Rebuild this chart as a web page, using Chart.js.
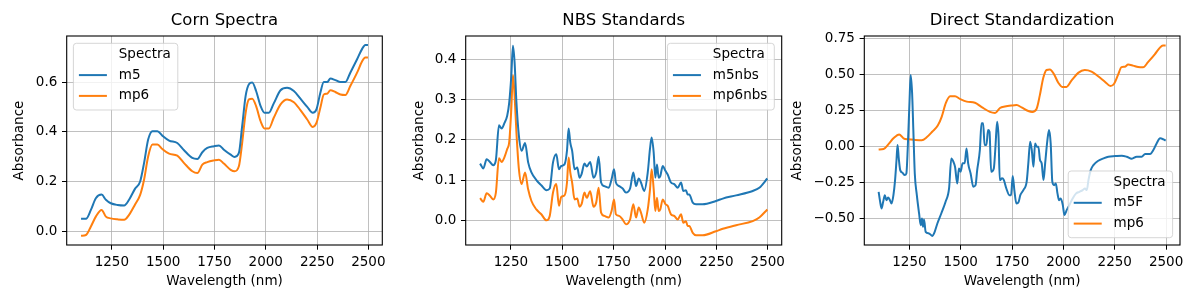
<!DOCTYPE html>
<html>
<head>
<meta charset="utf-8">
<script src="https://cdn.jsdelivr.net/npm/chart.js@4.4.1/dist/chart.umd.min.js"></script>
<style>
  html, body { margin: 0; padding: 0; background: #fff; }
  body { width: 1200px; height: 304px; position: relative; overflow: hidden; }
  canvas { position: absolute; top: 0; }
</style>
</head>
<body>
<canvas id="corn" width="400" height="304" style="left:0px"></canvas>
<canvas id="nbs" width="400" height="304" style="left:400px"></canvas>
<canvas id="ds" width="420" height="304" style="left:780px"></canvas>
<script>
// Corn spectra (m5 / mp6 instruments)
const cornWavelength = [1100, 1124, 1148, 1172, 1200, 1221, 1245, 1278, 1310, 1334, 1362, 1388, 1407, 1427, 1448, 1472, 1496, 1529, 1569, 1602, 1642, 1667, 1691, 1715, 1748, 1772, 1796, 1829, 1848, 1869, 1885, 1902, 1918, 1934, 1953, 1975, 1994, 2015, 2039, 2072, 2104, 2137, 2169, 2202, 2229, 2247, 2266, 2283, 2299, 2315, 2339, 2364, 2388, 2412, 2445, 2469, 2485, 2498];
const cornM5 = [0.049, 0.049, 0.085, 0.132, 0.147, 0.126, 0.112, 0.105, 0.103, 0.126, 0.169, 0.200, 0.274, 0.369, 0.403, 0.403, 0.385, 0.365, 0.355, 0.326, 0.295, 0.291, 0.318, 0.335, 0.342, 0.345, 0.328, 0.308, 0.299, 0.315, 0.423, 0.545, 0.592, 0.599, 0.565, 0.504, 0.477, 0.477, 0.515, 0.568, 0.578, 0.565, 0.534, 0.501, 0.477, 0.491, 0.558, 0.601, 0.601, 0.615, 0.609, 0.601, 0.601, 0.639, 0.693, 0.734, 0.751, 0.751];
const cornMp6 = [-0.019, -0.016, 0.018, 0.058, 0.085, 0.058, 0.051, 0.047, 0.045, 0.065, 0.105, 0.146, 0.207, 0.301, 0.349, 0.349, 0.331, 0.312, 0.304, 0.274, 0.241, 0.234, 0.268, 0.278, 0.285, 0.288, 0.272, 0.247, 0.241, 0.261, 0.355, 0.477, 0.531, 0.534, 0.504, 0.443, 0.414, 0.414, 0.457, 0.511, 0.531, 0.520, 0.488, 0.450, 0.420, 0.436, 0.497, 0.551, 0.554, 0.568, 0.561, 0.551, 0.549, 0.585, 0.639, 0.684, 0.700, 0.700];

// NBS standards
const nbsWavelength = [1100, 1116, 1132, 1148, 1164, 1177, 1192, 1205, 1218, 1232, 1242, 1252, 1260, 1268, 1277, 1289, 1302, 1319, 1334, 1350, 1374, 1398, 1423, 1439, 1455, 1471, 1484, 1495, 1511, 1523, 1531, 1539, 1548, 1560, 1573, 1584, 1594, 1608, 1619, 1636, 1652, 1665, 1677, 1689, 1705, 1726, 1740, 1752, 1761, 1777, 1794,
  1810, 1830, 1846, 1859, 1872, 1883, 1899, 1916, 1927, 1935, 1945, 1953, 1961, 1969, 1977, 1989, 2002, 2013, 2029, 2045, 2062, 2078, 2089, 2102, 2110, 2118, 2135, 2151, 2183, 2248, 2281, 2346, 2427, 2459, 2498];
const nbsM5 = [0.141, 0.129, 0.152, 0.145, 0.137, 0.150, 0.236, 0.228, 0.241, 0.260, 0.293, 0.359, 0.434, 0.393, 0.293, 0.210, 0.173, 0.192, 0.144, 0.119, 0.100, 0.087, 0.075, 0.079, 0.144, 0.164, 0.127, 0.135, 0.139, 0.173, 0.228, 0.193, 0.173, 0.127, 0.131, 0.106, 0.115, 0.141, 0.134, 0.145, 0.106, 0.119, 0.158, 0.094, 0.085, 0.081, 0.102, 0.127, 0.094, 0.085, 0.079,
  0.069, 0.079, 0.119, 0.085, 0.104, 0.094, 0.073, 0.119, 0.178, 0.206, 0.168, 0.106, 0.139, 0.106, 0.110, 0.135, 0.123, 0.114, 0.094, 0.090, 0.081, 0.094, 0.073, 0.075, 0.064, 0.064, 0.044, 0.040, 0.040, 0.048, 0.054, 0.062, 0.073, 0.081, 0.104];
const nbsMp6 = [0.055, 0.046, 0.067, 0.061, 0.052, 0.069, 0.154, 0.145, 0.156, 0.177, 0.195, 0.276, 0.361, 0.310, 0.218, 0.127, 0.090, 0.119, 0.077, 0.048, 0.027, 0.015, 0.000, 0.011, 0.069, 0.090, 0.036, 0.058, 0.062, 0.094, 0.156, 0.119, 0.094, 0.052, 0.054, 0.034, 0.040, 0.069, 0.056, 0.072, 0.034, 0.044, 0.081, 0.019, 0.011, 0.007, 0.023, 0.052, 0.015, 0.011, 0.002,
  -0.010, 0.002, 0.040, 0.007, 0.032, 0.019, -0.006, 0.027, 0.077, 0.127, 0.077, 0.023, 0.056, 0.023, 0.027, 0.052, 0.040, 0.036, 0.015, 0.011, 0.002, 0.015, -0.006, -0.002, -0.014, -0.014, -0.031, -0.037, -0.037, -0.027, -0.021, -0.012, -0.002, 0.007, 0.027];

// Direct standardization: transferred m5 spectrum (m5F)
const dsWavelength = [1100, 1106, 1114, 1122, 1130, 1138, 1146, 1155, 1163, 1172, 1180, 1187, 1192, 1198, 1205, 1216, 1227, 1235, 1242, 1250, 1256, 1263, 1269, 1276, 1286, 1297, 1305, 1311, 1316, 1321, 1329, 1345, 1362, 1370, 1386, 1405, 1426, 1443, 1454, 1464, 1472, 1483, 1491, 1499, 1509, 1519, 1528, 1536, 1548, 1561, 1572, 1580, 1593, 1601, 1609, 1616, 1625, 1633, 1640, 1648, 1661, 1669, 1677, 1684, 1690, 1701, 1710, 1722, 1737, 1745, 1753, 1761, 1771, 1782, 1790,
  1805, 1821, 1829, 1838, 1846, 1854, 1862, 1870, 1878, 1886, 1894, 1903, 1911, 1922, 1930, 1938, 1946, 1955, 1963, 1971, 1979, 1987, 1997, 2005, 2016, 2029, 2045, 2062, 2078, 2094, 2105, 2114, 2122, 2133, 2146, 2170, 2195, 2219, 2252, 2284, 2308, 2333, 2357, 2381, 2398, 2422, 2438, 2454, 2471, 2487, 2498];
const dsM5F = [-0.312, -0.370, -0.427, -0.381, -0.335, -0.370, -0.351, -0.370, -0.393, -0.335, -0.231, -0.092, 0.012, -0.081, -0.162, -0.180, -0.196, -0.185, 0.000, 0.300, 0.497, 0.370, 0.115, -0.185, -0.335, -0.462, -0.543, -0.497, -0.554, -0.503, -0.589, -0.600, -0.617, -0.600, -0.531, -0.462, -0.381, -0.289, -0.081, -0.104, -0.139, -0.254, -0.150, -0.173, -0.115, -0.115, -0.012, -0.115, -0.185, -0.277, -0.266, -0.162, -0.023, 0.162, 0.162, 0.012, 0.012, 0.115, 0.104, -0.173, -0.150, 0.000, 0.173, 0.069, -0.231, -0.219, -0.231, -0.289, -0.335, -0.335, -0.203, -0.300, -0.393, -0.381, -0.335,
  -0.300, -0.242, -0.115, 0.035, -0.023, -0.139, 0.023, 0.000, 0.000, -0.092, -0.115, -0.231, -0.115, 0.046, 0.115, 0.023, -0.242, -0.266, -0.254, -0.323, -0.370, -0.358, -0.404, -0.473, -0.439, -0.404, -0.358, -0.323, -0.312, -0.300, -0.289, -0.300, -0.231, -0.162, -0.127, -0.097, -0.081, -0.069, -0.065, -0.062, -0.069, -0.083, -0.069, -0.069, -0.051, -0.051, -0.023, 0.023, 0.058, 0.051, 0.042];

const xTicks = [1250, 1500, 1750, 2000, 2250, 2500];
const cornYTicks = [0.0, 0.2, 0.4, 0.6];
const nbsYTicks = [0.0, 0.1, 0.2, 0.3, 0.4];
const dsYTicks = [-0.50, -0.25, 0.00, 0.25, 0.50, 0.75];

const COLORS = ['#1f77b4', '#ff7f0e'];
const FONT = "'DejaVu Sans', sans-serif";
const FS = 13.5;

Chart.defaults.font.family = FONT;
Chart.defaults.color = '#000';

function fmt(v, digits) {
    const s = Math.abs(v).toFixed(digits);
    return (v < -1e-9 ? '\u2212' : '') + s;
}

// matplotlib style frame + legend drawn on top of the lines
const mplFrame = {
    id: 'mplFrame',
    afterDatasetsDraw(chart, args, opts) {
        const ctx = chart.ctx;
        const a = chart.chartArea;
        ctx.save();
        ctx.strokeStyle = '#000';
        ctx.lineWidth = 1.1;
        ctx.strokeRect(a.left, a.top, a.right - a.left, a.bottom - a.top);

        ctx.font = FS + 'px ' + FONT;
        const entries = [{label: 'Spectra', color: null}].concat(
            chart.data.datasets.map(d => ({label: d.label, color: d.borderColor})));
        const textW = Math.max(...entries.map(e => ctx.measureText(e.label).width));
        const w = 45.4 + textW + 7;
        const h = 66.7;
        let left, top;
        if (opts.position === 'upper left') {
            left = a.left + 6.7; top = a.top + 7.3;
        } else if (opts.position === 'upper right') {
            left = a.right - 7.4 - w; top = a.top + 7.3;
        } else {
            left = a.right - 7.4 - w; top = a.bottom - 7.3 - h;
        }
        const r = 3;
        ctx.beginPath();
        ctx.moveTo(left + r, top);
        ctx.lineTo(left + w - r, top);
        ctx.arcTo(left + w, top, left + w, top + r, r);
        ctx.lineTo(left + w, top + h - r);
        ctx.arcTo(left + w, top + h, left + w - r, top + h, r);
        ctx.lineTo(left + r, top + h);
        ctx.arcTo(left, top + h, left, top + h - r, r);
        ctx.lineTo(left, top + r);
        ctx.arcTo(left, top, left + r, top, r);
        ctx.closePath();
        ctx.fillStyle = 'rgba(255,255,255,0.8)';
        ctx.fill();
        ctx.strokeStyle = 'rgba(204,204,204,0.8)';
        ctx.lineWidth = 1;
        ctx.stroke();

        ctx.textBaseline = 'middle';
        ctx.textAlign = 'left';
        entries.forEach((e, i) => {
            const cy = top + 11 + i * 20.8;
            if (e.color) {
                ctx.strokeStyle = e.color;
                ctx.lineWidth = 2;
                ctx.beginPath();
                ctx.moveTo(left + 5.5, cy);
                ctx.lineTo(left + 33.5, cy);
                ctx.stroke();
            }
            ctx.fillStyle = '#000';
            ctx.fillText(e.label, left + 45.4, cy);
        });
        ctx.restore();
    }
};

function makeChart(canvasId, cfg) {
    const datasets = cfg.series.map((s, i) => ({
        label: s.label,
        data: s.x.map((x, j) => ({x: x, y: s.y[j]})),
        borderColor: COLORS[i],
        backgroundColor: COLORS[i],
        borderWidth: 2,
        pointRadius: 0,
        cubicInterpolationMode: 'monotone',
        fill: false
    }));
    const grid = {color: '#b0b0b0', lineWidth: 0.8, tickColor: '#000', tickLength: 4.7, tickWidth: 1};
    return new Chart(document.getElementById(canvasId), {
        type: 'line',
        data: {datasets: datasets},
        options: {
            responsive: false,
            animation: false,
            events: [],
            layout: {padding: {top: 0, right: cfg.padRight, bottom: 0, left: 0}},
            plugins: {
                legend: {display: false},
                tooltip: {enabled: false},
                title: {
                    display: true,
                    text: cfg.title,
                    fullSize: false,
                    color: '#000',
                    font: {size: 16.5, weight: 'normal', lineHeight: 1.2},
                    padding: {top: 11, bottom: 5.2}
                },
                mplFrame: {position: cfg.legend}
            },
            scales: {
                x: {
                    type: 'linear',
                    min: 1030.1,
                    max: 2567.9,
                    afterBuildTicks: s => { s.ticks = xTicks.map(v => ({value: v})); },
                    afterFit: s => { s.height = 59; },
                    grid: grid,
                    border: {display: false},
                    ticks: {autoSkip: false, maxRotation: 0, padding: 4.7, font: {size: FS}, callback: v => String(v)},
                    title: {display: true, text: 'Wavelength (nm)', font: {size: FS}, padding: {top: 0, bottom: 14.7}}
                },
                y: {
                    type: 'linear',
                    min: cfg.yMin,
                    max: cfg.yMax,
                    afterBuildTicks: s => { s.ticks = cfg.yTicks.map(v => ({value: v})); },
                    afterFit: s => { s.width = cfg.yWidth; },
                    grid: grid,
                    border: {display: false},
                    ticks: {autoSkip: false, padding: 4.7, font: {size: FS}, callback: v => fmt(v, cfg.digits)},
                    title: {display: true, text: 'Absorbance', font: {size: FS}, padding: {top: cfg.yTitlePad, bottom: 0}}
                }
            }
        },
        plugins: [mplFrame]
    });
}

makeChart('corn', {
    title: 'Corn Spectra',
    series: [
        {label: 'm5', x: cornWavelength, y: cornM5},
        {label: 'mp6', x: cornWavelength, y: cornMp6}
    ],
    yMin: -0.0565, yMax: 0.787, yTicks: cornYTicks, digits: 1,
    yWidth: 66.7, padRight: 17.7, yTitlePad: 11.7, legend: 'upper left'
});

makeChart('nbs', {
    title: 'NBS Standards',
    series: [
        {label: 'm5nbs', x: nbsWavelength, y: nbsM5},
        {label: 'mp6nbs', x: nbsWavelength, y: nbsMp6}
    ],
    yMin: -0.0613, yMax: 0.458, yTicks: nbsYTicks, digits: 1,
    yWidth: 65.7, padRight: 18.3, yTitlePad: 11.7, legend: 'upper right'
});

makeChart('ds', {
    title: 'Direct Standardization',
    series: [
        {label: 'm5F', x: dsWavelength, y: dsM5F},
        {label: 'mp6', x: cornWavelength, y: cornMp6}
    ],
    yMin: -0.68, yMax: 0.766, yTicks: dsYTicks, digits: 2,
    yWidth: 84.3, padRight: 20, yTitlePad: 9.7, legend: 'lower right'
});
</script>
</body>
</html>
